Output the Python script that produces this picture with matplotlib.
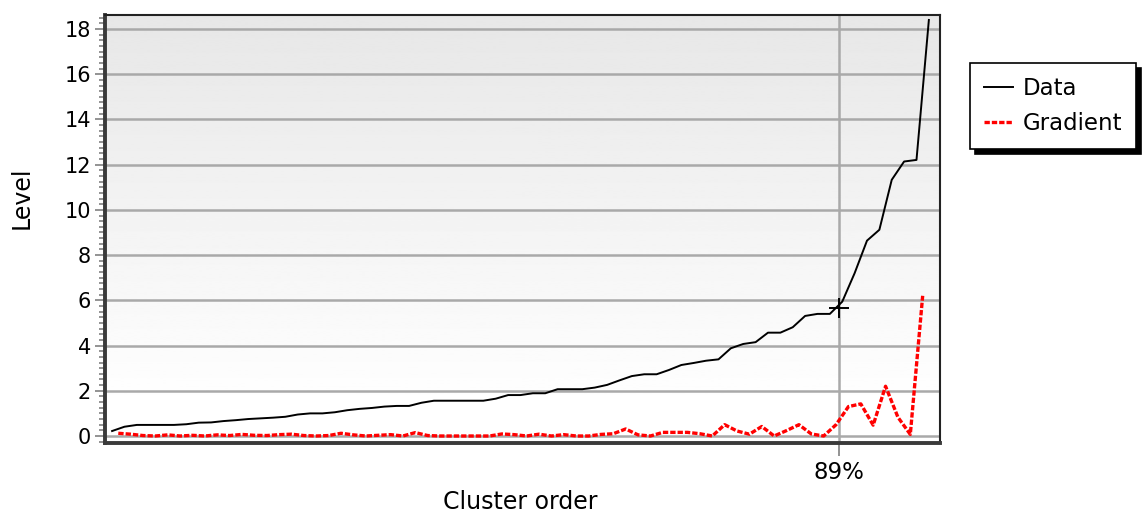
import numpy as np
import matplotlib
matplotlib.use('Agg')
import matplotlib.pyplot as plt
from matplotlib.ticker import MultipleLocator

# level of each cluster in order
level = [0.22, 0.41, 0.49, 0.49, 0.49, 0.49, 0.52, 0.59, 0.60, 0.66,
         0.70, 0.75, 0.78, 0.81, 0.85, 0.95, 1.00, 1.00, 1.05, 1.14,
         1.20, 1.24, 1.30, 1.33, 1.33, 1.47, 1.56, 1.56, 1.56, 1.56,
         1.56, 1.65, 1.81, 1.81, 1.89, 1.89, 2.07, 2.07, 2.07, 2.14,
         2.26, 2.46, 2.65, 2.73, 2.73, 2.92, 3.14, 3.23, 3.33, 3.39,
         3.88, 4.07, 4.15, 4.57, 4.57, 4.81, 5.31, 5.40, 5.40, 5.94,
         7.20, 8.64, 9.12, 11.33, 12.14, 12.21, 18.40]

# gradient between neighbours, drawn half way between them
gradient = [0.12, 0.08, 0.02, 0.00, 0.05, 0.00, 0.03, 0.00, 0.05, 0.02,
            0.07, 0.03, 0.02, 0.06, 0.08, 0.02, 0.00, 0.02, 0.12, 0.05,
            0.00, 0.03, 0.06, 0.00, 0.15, 0.02, 0.00, 0.00, 0.00, 0.00,
            0.00, 0.09, 0.06, 0.00, 0.08, 0.00, 0.06, 0.00, 0.00, 0.07,
            0.10, 0.31, 0.05, 0.00, 0.16, 0.16, 0.16, 0.10, 0.00, 0.50,
            0.22, 0.08, 0.42, 0.00, 0.24, 0.50, 0.09, 0.00, 0.50, 1.30,
            1.42, 0.48, 2.20, 0.83, 0.07, 6.20]

cut_frac = 0.89
cut_label = '89%'
cut_level = 5.65

x = np.arange(len(level))
xg = np.arange(len(gradient)) + 0.5
cut_x = cut_frac * (len(level) - 1)

fig = plt.figure(figsize=(11.43, 5.15), dpi=100)
ax = fig.add_axes([0.0919, 0.1398, 0.7305, 0.8311])

xmin, xmax = -0.57, 66.9
ymin, ymax = -0.31, 18.62

# light grey to white background
yy = np.linspace(ymin, ymax, 300)
shade = np.clip(1.0 - (yy - 1.1) / 17.5 * 0.095, 0.9, 1.0)
ax.imshow(shade.reshape(-1, 1), cmap='gray', vmin=0, vmax=1, origin='lower',
          extent=[xmin, xmax, ymin, ymax], aspect='auto', zorder=0)

for yv in range(0, 19, 2):
    ax.axhline(yv, color='#a9a9a9', lw=1.8, zorder=1)
ax.axvline(cut_x, color='#a9a9a9', lw=1.8, zorder=1)

ax.plot(x, level, color='black', lw=1.4, label='Data', zorder=3)
ax.plot(xg, gradient, color='#ff0000', lw=2.4, ls=(0, (1.6, 0.6)),
        label='Gradient', zorder=3)
ax.plot([cut_x], [cut_level], marker='+', color='black', ms=14, mew=1.4,
        zorder=4)

ax.set_xlim(xmin, xmax)
ax.set_ylim(ymin, ymax)

ax.set_yticks(range(0, 19, 2))
ax.yaxis.set_minor_locator(MultipleLocator(0.25))
ax.set_xticks([cut_x])
ax.set_xticklabels([cut_label])

ax.tick_params(axis='y', which='major', length=7, width=1.2, color='#808080',
               labelsize=15, pad=3)
ax.tick_params(axis='y', which='minor', length=4, width=1.2, color='#808080')
ax.tick_params(axis='x', which='major', length=9, width=1.2, color='#808080',
               labelsize=16.5, pad=4)

for side in ['left', 'bottom']:
    ax.spines[side].set_linewidth(2.8)
    ax.spines[side].set_color('#3a3a3a')
for side in ['top', 'right']:
    ax.spines[side].set_linewidth(1.5)
    ax.spines[side].set_color('#222222')

ax.set_xlabel('Cluster order', fontsize=17, va='baseline')
ax.xaxis.set_label_coords(0.497, -0.154)
ax.set_ylabel('Level', fontsize=17)
ax.yaxis.set_label_coords(-0.086, 0.572)

leg = ax.legend(loc='upper left', bbox_to_anchor=(0.849, 0.878),
                bbox_transform=fig.transFigure, borderaxespad=0,
                fontsize=16.5, fancybox=False,
                framealpha=1, edgecolor='black', handlelength=1.25,
                handletextpad=0.45, borderpad=0.6, labelspacing=0.55,
                shadow={'ox': 3, 'oy': -4, 'color': 'black', 'alpha': 1})
leg.get_frame().set_linewidth(1.2)

fig.savefig('out.png', dpi=100)
